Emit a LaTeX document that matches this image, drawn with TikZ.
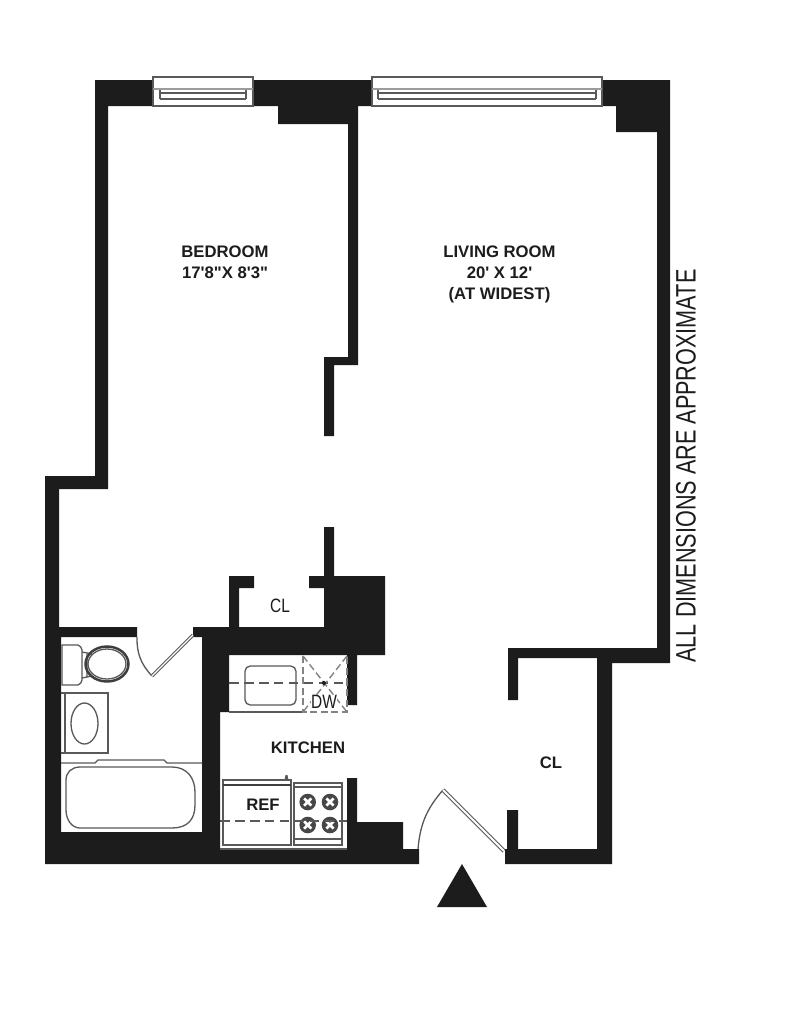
\documentclass[tikz,border=0pt]{standalone}
\usepackage{graphicx}
\usepackage{fontspec}
\setmainfont{Liberation Sans}
\newfontfamily\planfont{Liberation Sans}
\usepackage{tikz}
\definecolor{wallblack}{rgb}{0.11, 0.11, 0.11}
\definecolor{fixgray}{rgb}{0.35, 0.35, 0.35}
\tikzset{
	wall/.style={fill=wallblack, draw=none},
	fixture/.style={draw=fixgray, line width=0.75pt},
	window/.style={draw=fixgray, line width=0.6pt},
	thickfix/.style={draw=wallblack!85, line width=1.1pt},
	dashfix/.style={draw=fixgray, line width=0.7pt, dash pattern=on 5.5pt off 3pt},
	lightdash/.style={draw=fixgray!75, line width=0.8pt, dash pattern=on 4pt off 2pt},
	roomlabel/.style={font=\planfont\bfseries\fontsize{9.5}{11.9}\selectfont, text=wallblack, inner sep=0, align=center},
	thinlabel/.style={font=\planfont\fontsize{11}{12}\selectfont, text=wallblack, inner sep=0},
}
\newcommand{\burner}[2]{
	\fill[fixgray!80!black] (#1,#2) circle (8.3);
	\draw[white, line width=1.5pt] (#1-3.6,#2-3.6) -- (#1+3.6,#2+3.6) (#1-3.6,#2+3.6) -- (#1+3.6,#2-3.6);
	\fill[white] (#1,#2) circle (2.2);
}
\begin{document}
\begin{tikzpicture}[x=0.02cm, y=-0.02cm]
	\useasboundingbox (0,0) rectangle (800,1012);
	\fill[white] (0,0) rectangle (800,1012);

	% walls
	\fill[wall] (95,80) -- (372,80) -- (372,106) -- (358,106) -- (358,365) -- (334,365) -- (334,436) -- (324,436) -- (324,357) -- (348,357) -- (348,124) -- (278,124) -- (278,106) -- (108,106) -- (108,489) -- (59,489) -- (59,627) -- (137,627) -- (137,637) -- (61,637) -- (61,832) -- (202,832) -- (202,637) -- (193,637) -- (193,627) -- (229,627) -- (229,576) -- (254,576) -- (254,588) -- (239,588) -- (239,627) -- (324,627) -- (324,588) -- (309,588) -- (309,576) -- (324,576) -- (324,527) -- (334,527) -- (334,576) -- (385,576) -- (385,655) -- (357,655) -- (357,705) -- (347,705) -- (347,655) -- (229,655) -- (229,712) -- (220,712) -- (220,849) -- (347,849) -- (347,778) -- (357,778) -- (357,822) -- (403,822) -- (403,849) -- (419,849) -- (419,864) -- (45,864) -- (45,476) -- (95,476) -- cycle;
	\fill[wall] (602,80) -- (670,80) -- (670,663) -- (612,663) -- (612,864) -- (505,864) -- (505,849) -- (507,849) -- (507,810) -- (518,810) -- (518,849) -- (597,849) -- (597,658) -- (518,658) -- (518,700) -- (508,700) -- (508,648) -- (657,648) -- (657,132) -- (616,132) -- (616,106) -- (602,106) -- cycle;
	\fill[wall] (462,864) -- (487,907) -- (437,907) -- cycle;

	% windows
	\draw[window, fill=white] (153,77) rectangle (253,106);
	\draw[window, draw=fixgray!60] (153,89) -- (253,89);
	\draw[window] (160,93) -- (246,93) (160,99) -- (246,99);
	\draw[window] (160,90) -- (160,99) (246,90) -- (246,99);
	\draw[window, fill=white] (372,77) rectangle (602,106);
	\draw[window, draw=fixgray!60] (372,89) -- (602,89);
	\draw[window] (378,93) -- (596,93) (378,99) -- (596,99);
	\draw[window] (378,90) -- (378,99) (596,90) -- (596,99);

	% doors
	\draw[fixture] (137,637) to [bend right=22] (152,676);
	\draw[fixture, line width=2pt] (152,676) -- (193,635);
	\draw[white, line width=0.7pt] (152,676) -- (193,635);
	\draw[fixture] (418,849) to [bend left=18] (443,790);
	\draw[fixture, line width=2.4pt] (443,790) -- (504,851);
	\draw[white, line width=1.1pt] (443,790) -- (504,851);

	% bath
	\draw[fixture] (62,645) -- (78,645) to [bend left=30] (82,650) -- (82,680) to [bend left=30] (78,685) -- (62,685) -- cycle;
	\draw[fixture] (82,652) -- (92,654) (82,678) -- (92,676) (87,654) -- (87,676);
	\draw[thickfix, line width=1.4pt] (107,664) ellipse (21.5 and 17.5);
	\draw[fixture] (107,664) ellipse (19 and 15);
	\draw[fixture] (61,693) -- (108,693) -- (108,753) -- (61,753) (65,693) -- (65,753);
	\draw[fixture] (84.5,723.5) ellipse (13.5 and 20.5);
	\draw[fixture] (61,763) -- (95,763) -- (98,760) -- (164,760) -- (167,763) -- (202,763);
	\draw[fixture] (80,767) -- (172,767) .. controls (187,767) and (195,778) .. (195,792) -- (195,805) .. controls (195,820) and (187,828) .. (172,828) -- (80,828) .. controls (72,828) and (66,820) .. (66,810) -- (66,780) .. controls (66,772) and (72,767) .. (80,767) -- cycle;

	% kitchen counter
	\draw[fixture, rounded corners=3] (245,666) rectangle (296,705);
	\draw[fixture] (229,712) -- (303,712);
	\draw[dashfix] (229,683) -- (347,683);
	\draw[lightdash] (303,656) -- (303,712) -- (347,712) -- (347,656);
	\draw[lightdash] (303,656) -- (347,712) (347,656) -- (303,712);
	\fill[wall] (324,683) circle (2);
	\fill[white] (311,696) rectangle (337,709);

	% fridge and stove
	\draw[fixture] (220,849) -- (347,849);
	\draw[fixture] (223,780) rectangle (291,845);
	\draw[thickfix] (223,785) -- (291,785);
	\fill[fixgray] (284.5,780) -- (285.5,775) -- (287.5,775) -- (288.5,780) -- cycle;
	\draw[fixture] (294,783) rectangle (342,845);
	\draw[fixture] (294,787) -- (342,787) (294,839) -- (342,839);
	\burner{307.7}{802}
	\burner{330}{802}
	\burner{307.7}{825}
	\burner{330}{825}
	\draw[dashfix] (220,821) -- (347,821);

	% labels
	\node[roomlabel] (bedroom) at (225,262.5) {BEDROOM\\17'8"X 8'3"};
	\node[roomlabel] (livingroom) at (499.5,274.5) {LIVING ROOM\\20' X 12'\\(AT WIDEST)};
	\node[roomlabel] (kitchen) at (308,748) {KITCHEN};
	\node[roomlabel] (ref) at (263,805) {REF};
	\node[roomlabel] (hallcl) at (551,763) {CL};
	\node[thinlabel] (bedcl) at (280,605.5) {\scalebox{0.8}[1]{CL}};
	\node[thinlabel] (dw) at (324,702) {\scalebox{0.8}[1]{DW}};
	\node[rotate=90, font=\planfont\fontsize{16}{17}\selectfont, text=wallblack, inner sep=0] (note) at (686,466) {\scalebox{0.77}[1]{ALL DIMENSIONS ARE APPROXIMATE}};
\end{tikzpicture}
\end{document}
